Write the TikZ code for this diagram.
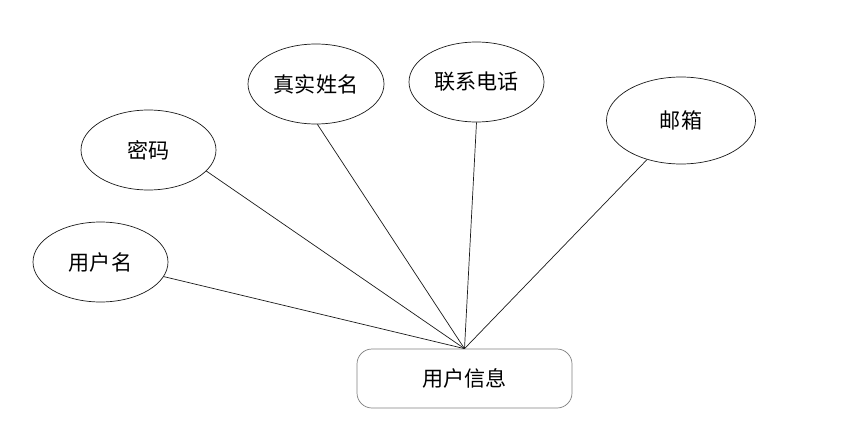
\documentclass[tikz,border=0pt]{standalone}
\usepackage{fontspec}
\usepackage{tikz}
\usetikzlibrary{positioning, shapes.geometric}
\newfontfamily\cjk{Noto Sans CJK SC}
\definecolor{erLine}{HTML}{1A1A1A}
\definecolor{erFrame}{HTML}{7F7F7F}
\tikzset{
    erAttr/.style={
        ellipse,
        draw=erLine,
        line width=0.6pt,
        minimum width=4.05cm,
        minimum height=2.4cm,
        inner sep=0pt,
        font=\cjk\fontsize{18}{21}\selectfont
    },
    erEntity/.style={
        rectangle,
        draw=erFrame,
        line width=0.6pt,
        rounded corners=0.45cm,
        minimum width=6.45cm,
        minimum height=1.77cm,
        font=\cjk\fontsize{18}{21}\selectfont
    },
    % Connectors
    erLink/.style={draw=erLine, line width=0.6pt}
}
\begin{document}
\begin{tikzpicture}[on grid]
\useasboundingbox (0,0) rectangle (25.98,12.6);
\node[erEntity] (info) at (13.935,1.245) {用户信息};
\node[erAttr, above left=3.495cm and 10.92cm of info] (uname) {用户名};
\node[erAttr, above left=6.855cm and 9.48cm of info] (pwd) {密码};
\node[erAttr, minimum width=4.08cm, above left=8.835cm and 4.455cm of info] (realname) {真实姓名};
\node[erAttr, above right=8.895cm and 0.36cm of info] (phone) {联系电话};
\node[erAttr, minimum width=4.47cm, minimum height=2.61cm, above right=7.74cm and 6.495cm of info] (mail) {邮箱};

\draw[erLink] (uname.-13) -- (info.north);
\draw[erLink] (pwd.-20) -- (info.north);
\draw[erLink] (realname.-88) -- (info.north);
\draw[erLink] (phone.south) -- (info.north);
\draw[erLink] (mail.229) -- (info.north);
\end{tikzpicture}
\end{document}
